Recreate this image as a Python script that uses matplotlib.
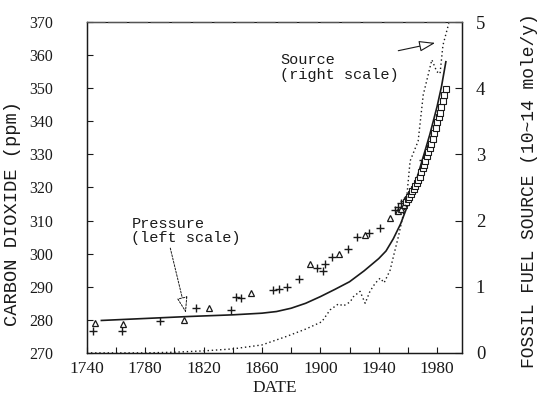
import matplotlib
matplotlib.use("Agg")
import matplotlib.pyplot as plt
from matplotlib.ticker import MultipleLocator

# ice core / historical CO2 (triangles and pluses), ppm
tri_years = [1745.5, 1765, 1806.7, 1824, 1852.5, 1893, 1912.8, 1930.7, 1947.4,
             1953, 1955, 1957, 1959, 1961]
tri_ppm = [279.0, 278.8, 279.8, 283.7, 288.0, 296.9, 299.9, 305.6, 310.7,
           312.8, 313.6, 314.6, 315.6, 317.0]

plus_years = [1744, 1764, 1790, 1815, 1838.5, 1842, 1845.6, 1867.8, 1872, 1877,
              1885.6, 1897.5, 1901.6, 1903.5, 1907.8, 1919, 1925, 1933, 1941,
              1951, 1953, 1955, 1957, 1960, 1962, 1970.5]
plus_ppm = [276.7, 276.6, 279.5, 283.5, 283.0, 287.0, 286.5, 289.0, 289.2, 290.0,
            292.2, 295.6, 294.6, 296.8, 298.9, 301.5, 305.1, 306.3, 307.7,
            313.2, 314.0, 315.2, 316.0, 317.0, 318.2, 328.3]

# Mauna Loa style annual means (squares)
sq_years = list(range(1959, 1987))
sq_ppm = [315.5, 316.5, 317.2, 318.0, 318.8, 319.5, 320.3, 321.2, 322.2, 323.2,
          324.6, 325.8, 326.8, 328.0, 329.6, 330.6, 331.8, 333.0, 334.8, 336.4,
          338.0, 339.8, 341.2, 342.6, 344.4, 346.0, 347.8, 349.8]

# model pressure curve (left scale)
model_years = [1750, 1780, 1810, 1840, 1860, 1870, 1880, 1890, 1900, 1910,
               1920, 1930, 1940, 1945, 1950, 1955, 1960, 1965, 1970, 1975,
               1980, 1983, 1986]
model_ppm = [279.8, 280.4, 281.0, 281.5, 282.0, 282.5, 283.5, 285.0, 287.0, 289.2,
             291.5, 294.8, 298.5, 300.8, 304.5, 309.0, 314.8, 321.0, 328.5, 336.0,
             344.5, 350.5, 358.0]

# fossil fuel source (right scale), 10^14 mole/y
src_years = [1740, 1780, 1800, 1820, 1840, 1860, 1877, 1890, 1901, 1906.7,
             1912.4, 1915.8, 1920.4, 1922.7, 1927.2, 1930.7, 1934, 1937.5, 1941,
             1943.7, 1947.8, 1950, 1953.5, 1959, 1961.5, 1967, 1970.5, 1976.4,
             1979.8, 1982, 1984, 1988]
src_val = [0.0, 0.0, 0.01, 0.03, 0.06, 0.12, 0.25, 0.36, 0.47, 0.65,
           0.74, 0.71, 0.77, 0.85, 0.93, 0.75, 0.93, 1.05, 1.13,
           1.06, 1.25, 1.45, 1.76, 2.31, 2.9, 3.2, 3.9, 4.43,
           4.25, 4.22, 4.65, 4.98]

year_ticks = list(range(1740, 1981, 40))
year_minor = list(range(1740, 1997, 20))

ink = "#1a1a1a"
serif = "Liberation Serif"
mono = "Liberation Mono"

fig = plt.figure(figsize=(5.39, 4.01), dpi=100)
ax = fig.add_axes([0.161, 0.12, 0.696, 0.825])
ax2 = ax.twinx()

ax.plot(model_years, model_ppm, color=ink, lw=1.2, zorder=3)
ax.plot(tri_years, tri_ppm, ls="none", marker="^", ms=4.5, mfc="white",
        mec=ink, mew=0.9, zorder=4)
ax.plot(plus_years, plus_ppm, ls="none", marker="+", ms=5.5, color=ink,
        mew=1.0, zorder=4)
ax.plot(sq_years, sq_ppm, ls="none", marker="s", ms=4.5, mfc="white",
        mec=ink, mew=0.8, zorder=4)

ax2.plot(src_years, src_val, color=ink, lw=1.0, ls=(0, (1.0, 2.0)))

ax.set_xlim(1740, 1997)
ax.set_ylim(270, 370)
ax2.set_ylim(0, 5)

ax.set_xticks(year_ticks)
ax.set_xticks(year_minor, minor=True)
ax.yaxis.set_major_locator(MultipleLocator(10))
ax2.yaxis.set_major_locator(MultipleLocator(1))

ax.tick_params(axis="x", which="both", direction="in", length=4, width=0.8,
               pad=6, labelsize=12.5, colors=ink)
ax.tick_params(axis="y", direction="in", length=4, width=0.8, pad=24,
               labelsize=11.5, colors=ink)
ax2.tick_params(axis="y", direction="in", length=5, width=0.8, pad=10,
                labelsize=13.5, colors=ink)
for lab in ax.get_xticklabels() + ax.get_yticklabels() + ax2.get_yticklabels():
    lab.set_fontfamily(serif)

for a in (ax, ax2):
    for sp in a.spines.values():
        sp.set_color(ink)
        sp.set_linewidth(0.9)
ax2.spines["top"].set_color("#555555")
ax2.spines["top"].set_linestyle((0, (14, 3)))

ax.set_xlabel("DATE", fontfamily=serif, fontsize=12.5, color=ink, labelpad=2)
ax.set_ylabel("CARBON DIOXIDE (ppm)", fontfamily=mono, fontsize=13.5, color=ink)
ax.yaxis.set_label_coords(-0.176, 0.42)
ax2.set_ylabel("FOSSIL FUEL SOURCE (10~14 mole/y)", fontfamily=mono,
               fontsize=13, color=ink, rotation=90)
ax2.yaxis.set_label_coords(1.158, 0.49)

ax.annotate("Pressure\n(left scale)", xy=(1807.9, 282.1), xytext=(1770.5, 302.5),
            fontfamily=mono, fontsize=11, color=ink, ha="left", va="bottom",
            linespacing=1.05,
            arrowprops=dict(arrowstyle="-|>,head_length=0.9,head_width=0.3",
                            fc="white", ec=ink, lw=0.7, ls=(0, (2, 1.5)),
                            shrinkA=0, shrinkB=0, relpos=(0.35, 0.0)))
ax.annotate("Source\n(right scale)", xy=(1978.7, 363.7), xytext=(1872.5, 360.5),
            fontfamily=mono, fontsize=11, color=ink, ha="left", va="top",
            linespacing=1.05,
            arrowprops=dict(arrowstyle="-|>,head_length=0.9,head_width=0.3",
                            fc="white", ec=ink, lw=0.8,
                            shrinkA=0, shrinkB=0, relpos=(0.6, 0.75)))

fig.savefig("out.png", dpi=100)
